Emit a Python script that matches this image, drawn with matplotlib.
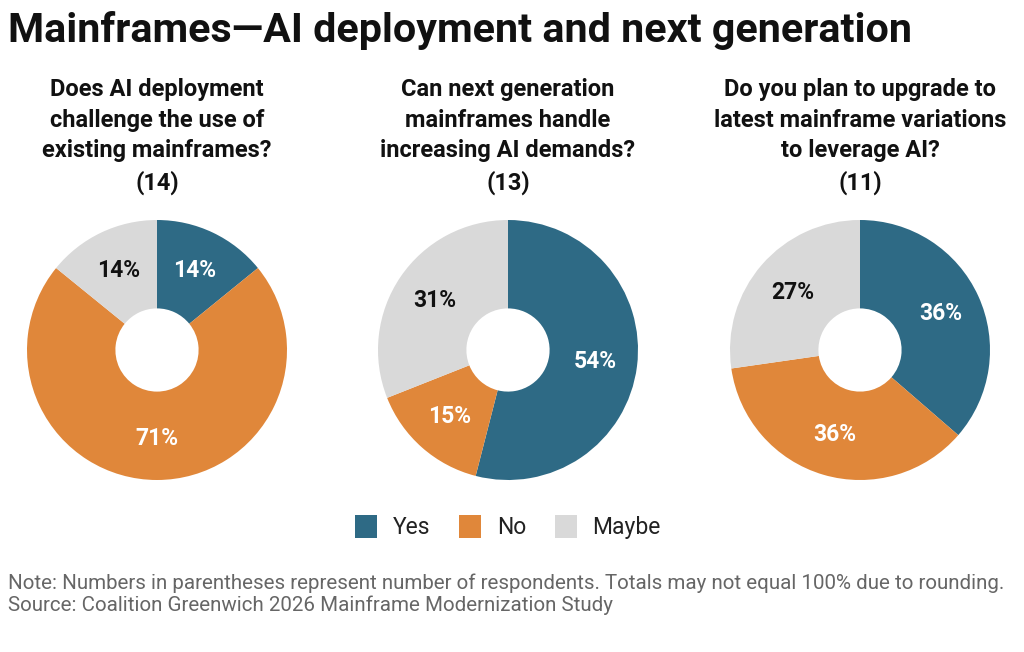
import numpy as np
import matplotlib.pyplot as plt
from matplotlib.patches import Patch

# Survey data
categories = ['Yes', 'No', 'Maybe']
colors = ['#2E6A85', '#E0873A', '#D9D9D9']
questions = [
    'Does AI deployment\nchallenge the use of\nexisting mainframes?\n(14)',
    'Can next generation\nmainframes handle\nincreasing AI demands?\n(13)',
    'Do you plan to upgrade to\nlatest mainframe variations\nto leverage AI?\n(11)',
]
q1_values = [14, 71, 14]
q2_values = [54, 15, 31]
q3_values = [36, 36, 27]
all_values = [q1_values, q2_values, q3_values]

plt.rcParams['font.family'] = ['Roboto', 'DejaVu Sans']

fig = plt.figure(figsize=(10.24, 6.52), dpi=100)

# Title
fig.text(8 / 1024, 1 - 31 / 652, 'Mainframes\u2014AI deployment and next generation',
         fontsize=29.7, fontweight='bold', ha='left', va='center', color='#111111')

centers_x = [157, 508, 860]
radius_px = 130
for cx, values, question in zip(centers_x, all_values, questions):
    ax = fig.add_axes([(cx - radius_px) / 1024, 1 - (350 + radius_px) / 652,
                       2 * radius_px / 1024, 2 * radius_px / 652])
    wedges, texts = ax.pie(values, colors=colors, startangle=90, counterclock=False,
                           wedgeprops=dict(width=0.68, linewidth=0))
    for w, v, c in zip(wedges, values, categories):
        ang = np.deg2rad((w.theta1 + w.theta2) / 2)
        r = 0.68
        ax.text(r * np.cos(ang), r * np.sin(ang), f'{v}%', ha='center', va='center',
                fontsize=16.5, fontweight='bold',
                color='#111111' if c == 'Maybe' else 'white')
    ax.set_xlim(-1, 1)
    ax.set_ylim(-1, 1)
    ax.axis('off')
    fig.text(cx / 1024, 1 - 78 / 652, question, ha='center', va='top',
             fontsize=17, fontweight='bold', linespacing=1.42, color='#111111')

# Legend
handles = [Patch(facecolor=c, edgecolor='none', label=l) for c, l in zip(colors, categories)]
fig.legend(handles=handles, loc='center', bbox_to_anchor=(508 / 1024, 1 - 527 / 652),
           ncol=3, frameon=False, handlelength=0.95, handleheight=1.2,
           handletextpad=0.7, columnspacing=1.25,
           prop={'size': 16.5}, labelcolor='#222222')

# Notes
fig.text(8 / 1024, 1 - 583 / 652,
         'Note: Numbers in parentheses represent number of respondents. Totals may not equal 100% due to rounding.',
         fontsize=14.8, color='#666666', ha='left', va='center')
fig.text(8 / 1024, 1 - 605 / 652, 'Source: Coalition Greenwich 2026 Mainframe Modernization Study',
         fontsize=14.8, color='#666666', ha='left', va='center')

fig.savefig('out.png', dpi=100, facecolor='white')
